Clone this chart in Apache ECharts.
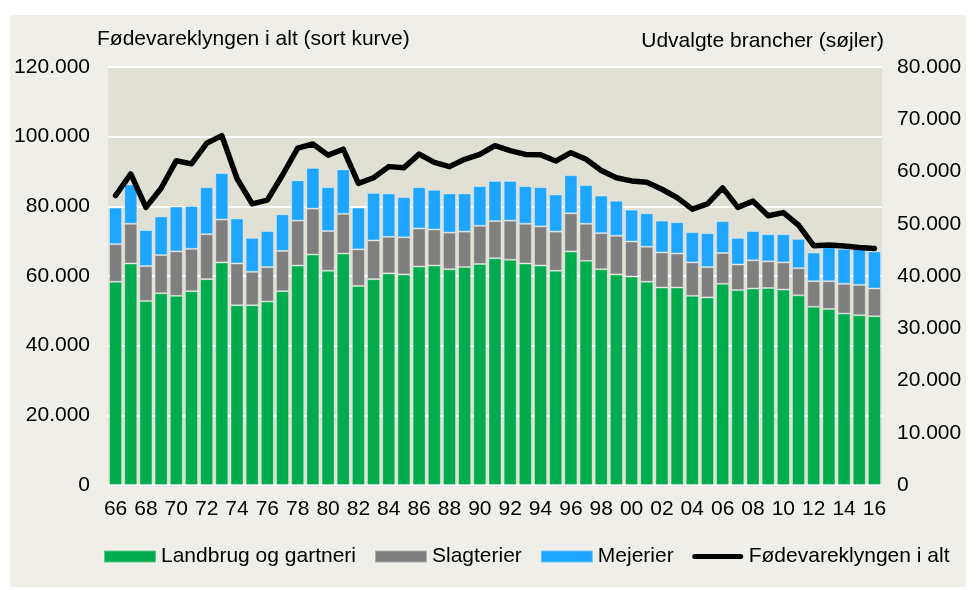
<!DOCTYPE html>
<html>
<head>
<meta charset="utf-8">
<script src="https://cdn.jsdelivr.net/npm/echarts@6/dist/echarts.min.js"></script>
<style>
html,body{margin:0;padding:0;background:#ffffff;}
#chart{width:976px;height:590px;}
</style>
</head>
<body>
<div id="chart"></div>
<script>
const years = ['66','67','68','69','70','71','72','73','74','75','76','77','78','79','80','81','82','83','84','85','86','87','88','89','90','91','92','93','94','95','96','97','98','99','00','01','02','03','04','05','06','07','08','09','10','11','12','13','14','15','16'];
const landbrug = [38900,42400,35200,36700,36200,37100,39400,42600,34400,34400,35100,37100,42000,44100,41000,44300,38100,39400,40500,40300,41800,42000,41300,41700,42300,43400,43100,42400,42000,41000,44700,42900,41300,40300,39900,38900,37800,37800,36200,35900,38500,37300,37600,37700,37400,36300,34100,33700,32800,32500,32300];
const slagterier = [7200,7600,6700,7300,8500,8100,8600,8200,8000,6400,6600,7700,8600,8800,7600,7600,7000,7400,7000,7100,7300,6900,7000,6800,7300,7100,7500,7600,7500,7500,7300,7100,6900,7400,6700,6700,6700,6500,6400,5800,5900,4900,5400,5100,5200,5200,4900,5300,5700,5800,5300];
const mejerier = [7000,7500,6900,7400,8600,8200,9000,8900,8600,6500,6900,7000,7700,7800,8400,8500,8000,9100,8300,7700,7900,7600,7500,7300,7600,7700,7600,7200,7500,7100,7300,7400,7200,6700,6100,6400,6100,6000,5800,6500,6100,5100,5600,5200,5400,5600,5500,6500,6700,6900,7100];
const foedevareklyngen = [83100,89300,79700,85200,93100,92200,98100,100300,88000,80700,81800,89000,96700,97900,94700,96400,86600,88200,91400,91100,95000,92600,91400,93500,94900,97400,96000,94900,94800,93000,95400,93500,90300,88200,87300,86900,84900,82500,79200,80700,85300,79700,81500,77300,78200,74600,68700,68900,68600,68200,67900];
const seriesNames = ['Landbrug og gartneri','Slagterier','Mejerier','Fødevareklyngen i alt'];
const leftTitle = 'Fødevareklyngen i alt (sort kurve)';
const rightTitle = 'Udvalgte brancher (søjler)';

function fmt(v){
  return String(v).replace(/\B(?=(\d{3})+(?!\d))/g,'.');
}
const FONT = '"Liberation Sans", Arial, sans-serif';
const lineIcon = 'path://M0,0 M52,12 M3,3.5 L49,3.5 A2.5,2.5 0 0 1 49,8.5 L3,8.5 A2.5,2.5 0 0 1 3,3.5 Z';
const chart = echarts.init(document.getElementById('chart'));
const barBorder = 'rgba(255,255,255,0.35)';
chart.setOption({
  animation:false,
  backgroundColor:'#ffffff',
  textStyle:{fontFamily:FONT},
  graphic:[
    {type:'rect', z:-100, silent:true, shape:{x:10,y:15,width:956,height:572}, style:{fill:'#efeee8'}},
    {type:'text', left:97, top:29, style:{text:leftTitle, fontSize:21, fontFamily:FONT, fill:'#000'}},
    {type:'text', right:92, top:31, style:{text:rightTitle, fontSize:21, fontFamily:FONT, fill:'#000'}}
  ],
  grid:{left:108,right:94,top:67,bottom:105,show:true,backgroundColor:'#e1e0d4',borderWidth:0},
  legend:{
    left:103, top:546, padding:0,
    itemWidth:52, itemHeight:12, itemGap:18,
    textStyle:{fontSize:21,fontFamily:FONT,color:'#000'},
    data:[
      {name:seriesNames[0], icon:'rect'},
      {name:seriesNames[1], icon:'rect'},
      {name:seriesNames[2], icon:'rect'},
      {name:seriesNames[3], icon:lineIcon, itemStyle:{color:'#000'}}
    ]
  },
  xAxis:{
    type:'category', data:years,
    axisLine:{show:false}, axisTick:{show:false},
    axisLabel:{interval:1, fontSize:21, fontFamily:FONT, color:'#000', margin:14}
  },
  yAxis:[
    {type:'value', min:0, max:120000, interval:20000,
     axisLine:{show:false}, axisTick:{show:false},
     axisLabel:{fontSize:21, fontFamily:FONT, color:'#000', margin:18, formatter:fmt},
     splitLine:{show:true, lineStyle:{color:'#ffffff', width:2}}},
    {type:'value', min:0, max:80000, interval:10000, position:'right',
     axisLine:{show:false}, axisTick:{show:false},
     axisLabel:{fontSize:21, fontFamily:FONT, color:'#000', margin:15, formatter:fmt},
     splitLine:{show:false}}
  ],
  series:[
    {name:seriesNames[0], type:'bar', stack:'b', yAxisIndex:1, data:landbrug, barCategoryGap:'14%',
     itemStyle:{color:'#00ac4e', borderColor:barBorder, borderWidth:1}},
    {name:seriesNames[1], type:'bar', stack:'b', yAxisIndex:1, data:slagterier,
     itemStyle:{color:'#7f7f7f', borderColor:barBorder, borderWidth:1}},
    {name:seriesNames[2], type:'bar', stack:'b', yAxisIndex:1, data:mejerier,
     itemStyle:{color:'#1ea5ff', borderColor:barBorder, borderWidth:1}},
    {name:seriesNames[3], type:'line', yAxisIndex:0, data:foedevareklyngen, symbol:'none', showSymbol:false, z:10,
     itemStyle:{color:'#000'},
     lineStyle:{color:'#000', width:5.5, cap:'round', join:'round'}}
  ]
});
</script>
</body>
</html>
